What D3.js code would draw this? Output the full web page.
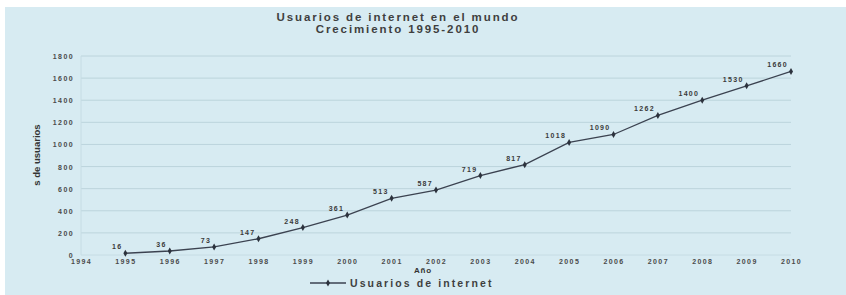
<!DOCTYPE html>
<html lang="es">
<head>
<meta charset="UTF-8">
<title>Usuarios de internet en el mundo</title>
<script src="https://d3js.org/d3.v7.min.js"></script>
<style>
  body { margin: 0; background: #fff; font-family: "Liberation Sans", Arial, sans-serif; }
  svg { display: block; }
  .tick text { font-size: 7px; font-weight: bold; letter-spacing: 1.4px; fill: #4a4a4a; }
  .lbl { font-size: 7px; font-weight: bold; letter-spacing: 1.3px; fill: #3a3a3a; }
</style>
</head>
<body>
<svg id="chart" width="846" height="295"></svg>
<script>
// data
const years = [1995, 1996, 1997, 1998, 1999, 2000, 2001, 2002, 2003, 2004, 2005, 2006, 2007, 2008, 2009, 2010];
const users = [16, 36, 73, 147, 248, 361, 513, 587, 719, 817, 1018, 1090, 1262, 1400, 1530, 1660];
const xTicks = d3.range(1994, 2011);
const yTicks = [0, 200, 400, 600, 800, 1000, 1200, 1400, 1600, 1800];

const svg = d3.select("#chart");

// panel background
svg.append("rect").attr("x", 5).attr("y", 7).attr("width", 841).attr("height", 288).attr("fill", "#d7ebf2");

const x = d3.scaleLinear().domain([1994, 2010]).range([81, 791]);
const y = d3.scaleLinear().domain([0, 1800]).range([255, 56]);

// grid
svg.append("g").selectAll("line").data(yTicks.filter(d => d > 0)).join("line")
  .attr("x1", 81).attr("x2", 791)
  .attr("y1", d => y(d)).attr("y2", d => y(d))
  .attr("stroke", "#bcd4dc").attr("stroke-width", 1);

svg.append("line").attr("x1", 81).attr("x2", 81).attr("y1", 56).attr("y2", 255)
  .attr("stroke", "#c6dce4");
svg.append("line").attr("x1", 81).attr("x2", 791).attr("y1", 255).attr("y2", 255)
  .attr("stroke", "#c6dce4");

// axes
const yAxis = svg.append("g").attr("transform", "translate(74,0)")
  .call(d3.axisLeft(y).tickValues(yTicks).tickSize(0).tickPadding(0).tickFormat(d3.format("d")));
yAxis.select(".domain").remove();
yAxis.selectAll("text").attr("dy", "0.35em");

const xAxis = svg.append("g").attr("transform", "translate(0,259)")
  .call(d3.axisBottom(x).tickValues(xTicks).tickSize(0).tickPadding(0).tickFormat(d3.format("d")));
xAxis.select(".domain").remove();
xAxis.selectAll("text").attr("dy", "0.71em");

// line + markers
const pts = years.map((yr, i) => ({ yr, v: users[i] }));
svg.append("path").datum(pts)
  .attr("fill", "none").attr("stroke", "#3b4250").attr("stroke-width", 1.3)
  .attr("d", d3.line().x(d => x(d.yr)).y(d => y(d.v)));

svg.append("g").selectAll("path").data(pts).join("path")
  .attr("transform", d => `translate(${x(d.yr)},${y(d.v)})`)
  .attr("d", d3.symbol().type(d3.symbolDiamond).size(14))
  .attr("fill", "#2c323d");

svg.append("g").selectAll("text").data(pts).join("text")
  .attr("class", "lbl")
  .attr("x", d => x(d.yr) - 3).attr("y", d => y(d.v) - 4)
  .attr("text-anchor", "end")
  .text(d => d.v);

// titles
const title = svg.append("text").attr("text-anchor", "middle")
  .style("font-size", "11.5px").style("font-weight", "bold").style("letter-spacing", "1.9px").attr("fill", "#3f3f3f");
title.append("tspan").attr("x", 398).attr("y", 21).text("Usuarios de internet en el mundo");
title.append("tspan").attr("x", 398).attr("y", 33).text("Crecimiento 1995-2010");

svg.append("text").attr("transform", "translate(40,155) rotate(-90)")
  .attr("text-anchor", "middle")
  .style("font-size", "9.5px").style("font-weight", "bold").attr("fill", "#333")
  .text("s de usuarios");

svg.append("text").attr("x", 423).attr("y", 273).attr("text-anchor", "middle")
  .style("font-size", "8px").style("font-weight", "bold").style("letter-spacing", "0.8px").attr("fill", "#333")
  .text("Año");

// legend
const lg = svg.append("g").attr("transform", "translate(310,283)");
lg.append("line").attr("x1", 0).attr("x2", 36).attr("y1", 0).attr("y2", 0)
  .attr("stroke", "#3b4250").attr("stroke-width", 1.3);
lg.append("path").attr("transform", "translate(18,0)")
  .attr("d", d3.symbol().type(d3.symbolDiamond).size(14)).attr("fill", "#2c323d");
lg.append("text").attr("x", 40).attr("y", 3.8)
  .style("font-size", "10.5px").style("font-weight", "bold").style("letter-spacing", "2.1px").attr("fill", "#3f3f3f")
  .text("Usuarios de internet");
</script>
</body>
</html>
